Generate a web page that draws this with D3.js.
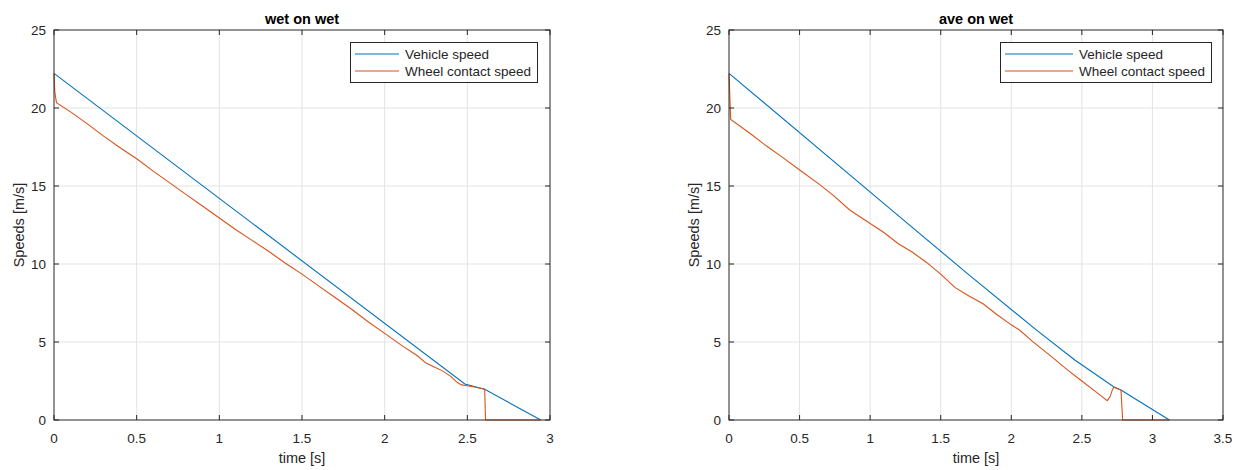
<!DOCTYPE html>
<html>
<head>
<meta charset="utf-8">
<script src="https://cdn.jsdelivr.net/npm/d3@7"></script>
<style>
	body{margin:0;background:#fff;}
	text{font-family:'Liberation Sans', Arial, sans-serif;fill:#262626;}
</style>
</head>
<body>
<div id="chart"></div>
<script>

// ---- data ----
const titles = ['wet on wet', 'ave on wet'];
const seriesNames = ['Vehicle speed', 'Wheel contact speed'];
const yTicks = [0, 5, 10, 15, 20, 25];
const xTicksLeft = [0, 0.5, 1, 1.5, 2, 2.5, 3];
const xTicksRight = [0, 0.5, 1, 1.5, 2, 2.5, 3, 3.5];

// wet on wet
const wetTime_vehicle = [0, 2.485, 2.605, 2.944];
const wetVehicle = [22.22, 2.31, 1.97, 0];
const wetTime_wheel = [0, 0.005, 0.015, 0.1, 0.2, 0.3, 0.4, 0.5, 0.6, 0.7, 0.8, 0.9, 1.0, 1.1, 1.2, 1.3, 1.4, 1.5, 1.6, 1.7, 1.8, 1.9, 2.0, 2.1, 2.2, 2.25, 2.3, 2.35, 2.4, 2.44, 2.465, 2.5, 2.55, 2.605, 2.61, 2.944];
const wetWheel = [22.2, 21.0, 20.34, 19.75, 19.0, 18.2, 17.45, 16.75, 15.95, 15.2, 14.45, 13.7, 12.95, 12.2, 11.5, 10.8, 10.05, 9.35, 8.6, 7.85, 7.1, 6.3, 5.55, 4.8, 4.1, 3.65, 3.4, 3.15, 2.8, 2.4, 2.25, 2.2, 2.1, 1.97, 0, 0];

// ave on wet
const aveTime_vehicle = [0, 1.138, 1.7, 2.177, 2.45, 2.725, 2.777, 3.12];
const aveVehicle = [22.22, 13.57, 9.3, 5.78, 3.85, 2.13, 1.92, 0];
const aveTime_wheel = [0, 0.012, 0.148, 0.266, 0.372, 0.501, 0.631, 0.737, 0.855, 1.0, 1.1, 1.2, 1.3, 1.4, 1.5, 1.6, 1.7, 1.8, 1.9, 2.0, 2.058, 2.152, 2.3, 2.4, 2.5, 2.6, 2.68, 2.7, 2.715, 2.725, 2.777, 2.789, 3.12];
const aveWheel = [22.2, 19.27, 18.38, 17.56, 16.88, 16.03, 15.17, 14.42, 13.46, 12.6, 12.0, 11.3, 10.75, 10.1, 9.35, 8.5, 7.95, 7.45, 6.75, 6.1, 5.77, 5.02, 3.95, 3.2, 2.5, 1.8, 1.24, 1.5, 1.9, 2.1, 1.92, 0, 0];

const colors = ['#0072BD', '#D95319'];
const W = 1242, H = 470;

const svg = d3.select('#chart')
	.append('svg')
	.attr('width', W)
	.attr('height', H);

function zip(ts, vs){
	return ts.map(function(t, i){return {t: t, v: vs[i]};});
}

function renderPanel(opts){
	const x = d3.scaleLinear().domain([0, opts.xMax]).range([opts.x0, opts.x1]);
	const y = d3.scaleLinear().domain([0, 25]).range([420, 30]);

	const plot = svg.append('g').attr('class', 'panel');

	// grid
	plot.selectAll('.gx')
		.data(opts.xTicks.slice(1, -1))
		.enter().append('line')
		.attr('x1', d => x(d)).attr('x2', d => x(d))
		.attr('y1', y(0)).attr('y2', y(25))
		.style('stroke', '#e3e3e3');
	plot.selectAll('.gy')
		.data(yTicks.slice(1, -1))
		.enter().append('line')
		.attr('x1', x(0)).attr('x2', x(opts.xMax))
		.attr('y1', d => y(d)).attr('y2', d => y(d))
		.style('stroke', '#e3e3e3');

	// lines
	const line = d3.line().x(d => x(d.t)).y(d => y(d.v));
	opts.series.forEach(function(s, i){
		plot.append('path')
			.datum(s)
			.attr('d', line)
			.style('fill', 'none')
			.style('stroke', colors[i])
			.style('stroke-width', 1.1);
	});

	// box + inward ticks on all sides
	const tl = 5;
	plot.append('rect')
		.attr('x', x(0)).attr('y', y(25))
		.attr('width', x(opts.xMax) - x(0)).attr('height', y(0) - y(25))
		.style('fill', 'none').style('stroke', '#262626').style('stroke-width', 1);
	opts.xTicks.forEach(function(d){
		plot.append('line').attr('x1', x(d)).attr('x2', x(d)).attr('y1', y(0)).attr('y2', y(0) - tl).style('stroke', '#262626');
		plot.append('line').attr('x1', x(d)).attr('x2', x(d)).attr('y1', y(25)).attr('y2', y(25) + tl).style('stroke', '#262626');
	});
	yTicks.forEach(function(d){
		plot.append('line').attr('x1', x(0)).attr('x2', x(0) + tl).attr('y1', y(d)).attr('y2', y(d)).style('stroke', '#262626');
		plot.append('line').attr('x1', x(opts.xMax)).attr('x2', x(opts.xMax) - tl).attr('y1', y(d)).attr('y2', y(d)).style('stroke', '#262626');
	});

	// tick labels
	plot.selectAll('.xl')
		.data(opts.xTicks)
		.enter().append('text')
		.attr('x', d => x(d)).attr('y', 443)
		.attr('text-anchor', 'middle')
		.style('font-size', '13.5px')
		.text(d => d);
	plot.selectAll('.yl')
		.data(yTicks)
		.enter().append('text')
		.attr('x', x(0) - 8).attr('y', d => y(d) + 5)
		.attr('text-anchor', 'end')
		.style('font-size', '13.5px')
		.text(d => d);

	// axis titles
	const cx = (x(0) + x(opts.xMax)) / 2;
	plot.append('text')
		.attr('x', cx).attr('y', 463)
		.attr('text-anchor', 'middle')
		.style('font-size', '14.5px')
		.text('time [s]');
	plot.append('text')
		.attr('transform', `translate(${x(0) - 30},225) rotate(-90)`)
		.attr('text-anchor', 'middle')
		.style('font-size', '14.5px')
		.text('Speeds [m/s]');
	plot.append('text')
		.attr('x', cx).attr('y', 24)
		.attr('text-anchor', 'middle')
		.style('font-size', '14.5px')
		.style('font-weight', 'bold')
		.style('fill', '#000')
		.text(opts.title);

	// legend
	const lw = opts.legendW, lh = 40;
	const lx = x(opts.xMax) - opts.legendGap - lw, ly = 42;
	const legend = plot.append('g').attr('transform', `translate(${lx},${ly})`);
	legend.append('rect')
		.attr('x', 0.5).attr('y', 0.5)
		.attr('width', lw).attr('height', lh)
		.style('fill', '#fff').style('stroke', '#262626').style('stroke-width', 1);
	seriesNames.forEach(function(name, i){
		const ry = 12 + i * 17;
		legend.append('line')
			.attr('x1', 5).attr('x2', 5 + opts.sampleW).attr('y1', ry).attr('y2', ry)
			.style('stroke', colors[i]).style('stroke-width', 1.1);
		legend.append('text')
			.attr('x', 11 + opts.sampleW).attr('y', ry + 5)
			.style('font-size', '13.5px')
			.text(name);
	});
}

renderPanel({
	title: titles[0], x0: 54, x1: 550, xMax: 3, xTicks: xTicksLeft,
	legendW: 187, legendGap: 13, sampleW: 44,
	series: [zip(wetTime_vehicle, wetVehicle), zip(wetTime_wheel, wetWheel)]
});
renderPanel({
	title: titles[1], x0: 729, x1: 1223, xMax: 3.5, xTicks: xTicksRight,
	legendW: 211, legendGap: 12, sampleW: 68,
	series: [zip(aveTime_vehicle, aveVehicle), zip(aveTime_wheel, aveWheel)]
});

</script>
</body>
</html>
